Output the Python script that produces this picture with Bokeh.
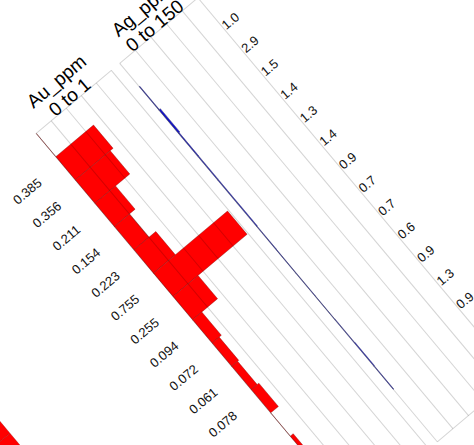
import math
from bokeh.plotting import figure
from bokeh.models import Range1d
from bokeh.embed import file_html
from bokeh.resources import INLINE
from bokeh.core.properties import value

# ---------------- data ----------------
au_from = [0, 1, 2, 3, 4, 5, 6, 7, 8, 9, 10, 11, 12, 13]
au_to = [1, 2, 3, 4, 5, 6, 7, 8, 9, 10, 11, 12, 13, 14]
au_ppm = [0.0, 0.385, 0.356, 0.211, 0.154, 0.223, 0.755, 0.255, 0.094, 0.072, 0.061, 0.078, 0.0, 0.030]
au_labels = ["", "0.385", "0.356", "0.211", "0.154", "0.223", "0.755", "0.255", "0.094", "0.072", "0.061", "0.078", "", "0.030"]
ag_from = [1, 2, 3, 4, 5, 6, 7, 8, 9, 10, 11, 12, 13]
ag_to = [2, 3, 4, 5, 6, 7, 8, 9, 10, 11, 12, 13, 14]
ag_ppm = [1.0, 2.9, 1.5, 1.4, 1.3, 1.4, 0.9, 0.7, 0.7, 0.6, 0.9, 1.3, 0.9]
ag_labels = ["1.0", "2.9", "1.5", "1.4", "1.3", "1.4", "0.9", "0.7", "0.7", "0.6", "0.9", "1.3", "0.9"]
# neighbouring track (mostly outside the picture)
left_from = [6, 7]
left_to = [7, 8]
left_vals = [0.81, 0.81]

track_names = ["Au_ppm", "Ag_ppm"]
track_ranges = ["0 to 1", "0 to 150"]
au_grid_ticks = [0.0, 0.2, 0.4, 0.6, 0.8, 1.0]
ag_grid_ticks = [0, 30, 60, 90, 120, 150]
track_top, track_bottom = 0.0, 16.25

# ---------------- layout (unrotated pixel frame) ----------------
ANGLE = 40.0
UL, UR, VT, VB = -390.0, 180.0, 60.0, 630.0
PX_PER_DEPTH = 30.4
TOP_V = 125.0
AU_L, AU_R = -58.5, 39.5
AU_BAR_PX = 128.0
AG_L, AG_R = 50.5, 152.5
LEFT_L = -375.0


def dep(v):
    return (v - TOP_V) / PX_PER_DEPTH


def px_range(px0, px1, val0, val1):
    s = (val1 - val0) / (px1 - px0)
    return Range1d(start=val0 - (px0 - UL) * s, end=val0 + (UR - px0) * s)


W, H = int(UR - UL), int(VB - VT)
c, s = math.cos(math.radians(ANGLE)), math.sin(math.radians(ANGLE))
tx = c * UL + s * VT
ty = -s * UL + c * VT

p = figure(frame_width=W, frame_height=H, min_border=0, title=None,
           x_range=Range1d(UL, UR), y_range=Range1d(dep(VB), dep(VT)),
           toolbar_location=None, output_backend="svg",
           x_axis_location=None, y_axis_location=None,
           outline_line_color=None, background_fill_color=None, border_fill_color=None,
           styles={"transform-origin": "0 0",
                   "transform": f"translate({tx:.2f}px, {ty:.2f}px) rotate(-{ANGLE}deg)"})
p.xgrid.visible = False
p.ygrid.visible = False

p.extra_x_ranges = {
    "au": px_range(AU_L, AU_R, 0.0, 1.0),
    "au_bar": px_range(AU_L, AU_L + AU_BAR_PX, 0.0, 1.0),
    "ag": px_range(AG_L, AG_R, 0.0, 150.0),
    "left": px_range(LEFT_L, LEFT_L + AU_BAR_PX, 0.0, 1.0),
}

GRID = dict(line_color="black", line_alpha=0.17, line_width=1)

# bars
p.quad(left=0, right=left_vals, top=left_from, bottom=left_to, x_range_name="left",
       fill_color="#ff0000", line_color="#700000", line_alpha=0.4, line_width=0.6)
p.quad(left=0, right=au_ppm, top=au_from, bottom=au_to, x_range_name="au_bar",
       fill_color="#ff0000", line_color="#700000", line_alpha=0.55, line_width=0.6)
p.quad(left=0, right=ag_ppm, top=ag_from, bottom=ag_to, x_range_name="ag",
       fill_color="#1010d0", line_color="#555577", line_alpha=0.8, line_width=0.6)

# track grids and borders
n = len(au_grid_ticks)
p.segment(x0=au_grid_ticks, y0=[track_top] * n, x1=au_grid_ticks, y1=[track_bottom] * n,
          x_range_name="au", **GRID)
p.segment(x0=[0, 0], y0=[track_top, track_bottom], x1=[1, 1], y1=[track_top, track_bottom],
          x_range_name="au", **GRID)
m = len(ag_grid_ticks)
p.segment(x0=ag_grid_ticks, y0=[track_top] * m, x1=ag_grid_ticks, y1=[track_bottom] * m,
          x_range_name="ag", **GRID)
p.segment(x0=[0, 0], y0=[track_top, track_bottom], x1=[150, 150], y1=[track_top, track_bottom],
          x_range_name="ag", **GRID)

# value labels
au_mids = [(a + b) / 2 for a, b in zip(au_from, au_to)]
ag_mids = [(a + b) / 2 for a, b in zip(ag_from, ag_to)]
FONT = value("Liberation Sans")
p.text(x=[-102.5] * len(au_mids), y=au_mids, text=au_labels, text_align="center",
       text_baseline="middle", y_offset=-7, text_font=FONT, text_font_size="13px",
       text_color="#111111")
p.text(x=[AG_R + 1] * len(ag_mids), y=ag_mids, text=ag_labels, text_align="left",
       text_baseline="middle", y_offset=-7, text_font=FONT, text_font_size="13px",
       text_color="#111111")

# headers
centers = [(AU_L + AU_R) / 2, (AG_L + AG_R) / 2]
p.text(x=centers, y=[dep(98)] * 2, text=track_names, text_align="center",
       text_baseline="alphabetic", text_font=FONT, text_font_size="19px", text_color="black")
p.text(x=centers, y=[dep(118.5)] * 2, text=track_ranges, text_align="center",
       text_baseline="alphabetic", text_font=FONT, text_font_size="19px", text_color="black")

open("out.html", "w").write(file_html(p, INLINE))
